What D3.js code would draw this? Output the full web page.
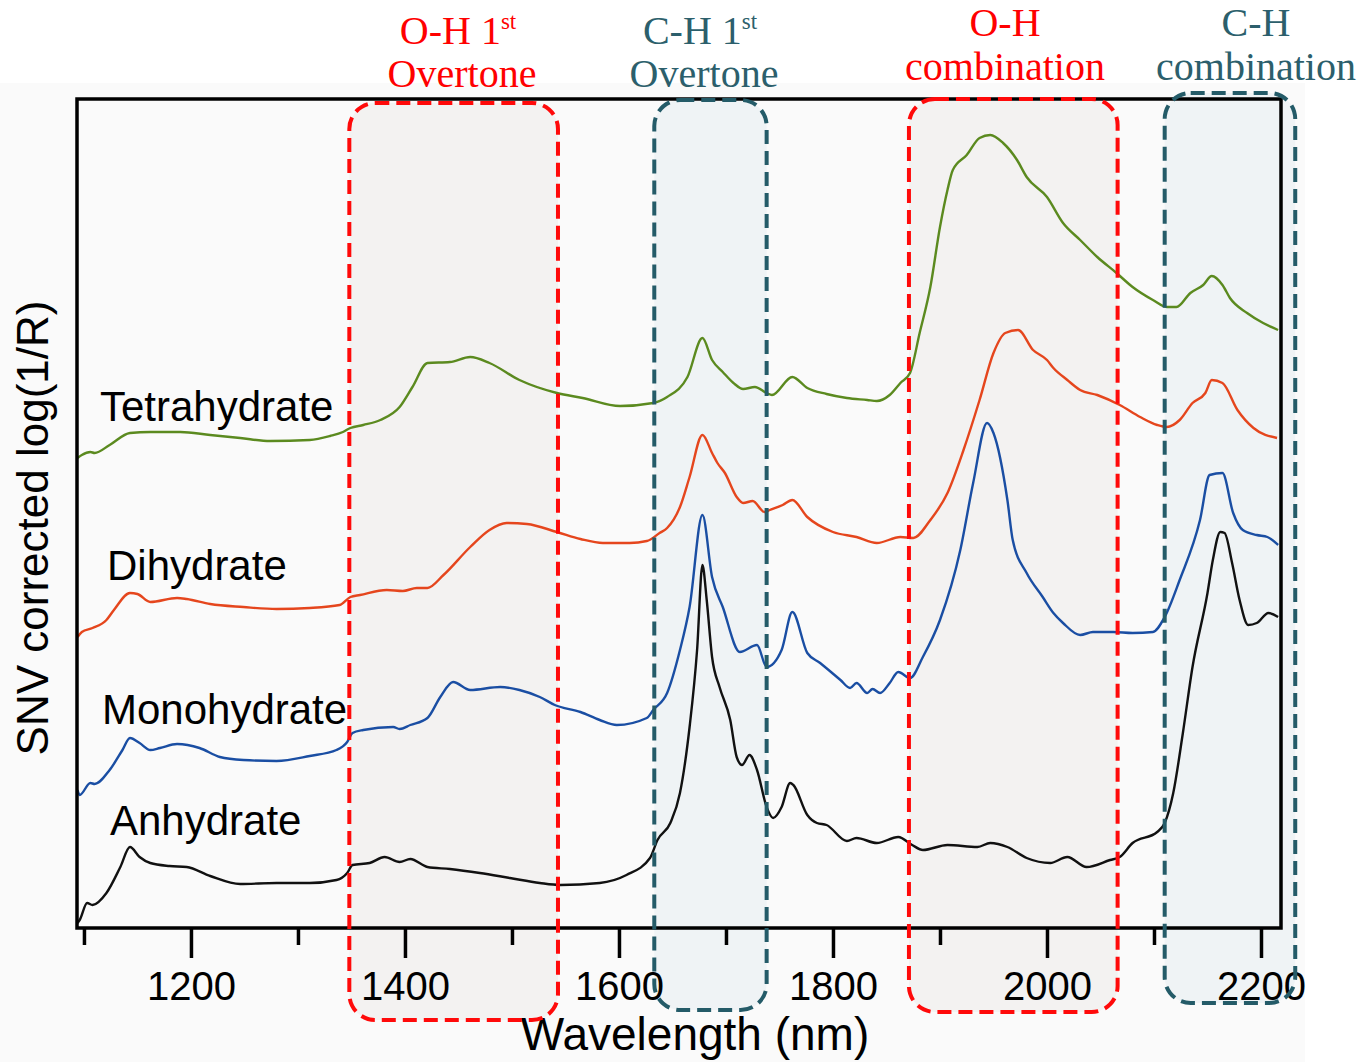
<!DOCTYPE html>
<html lang="en">
<head>
<meta charset="utf-8">
<title>NIR spectra of hydrates</title>
<script src="https://d3js.org/d3.v7.min.js"></script>
<style>
  body { margin: 0; background: #fff; }
  svg { display: block; }
  .tick-label { font-family: "Liberation Sans", Arial, sans-serif; font-size: 40px; fill: #000; }
  .axis-title { font-family: "Liberation Sans", Arial, sans-serif; font-size: 44px; fill: #000; }
  .series-label { font-family: "Liberation Sans", Arial, sans-serif; font-size: 42px; fill: #000; }
  .band-label { font-family: "Liberation Serif", "Times New Roman", serif; font-size: 40px; }
</style>
</head>
<body>
<div id="chart"></div>
<script>
// wavelength (nm), SNV value (arbitrary offset units)
const anhydrate = [
  [1094,0.05],[1096,0.08],[1103,0.25],[1108,0.23],[1121,0.35],[1134,0.61],[1143,0.81],[1152,0.71],
  [1162,0.65],[1180,0.62],[1196,0.61],[1218,0.52],[1246,0.44],[1280,0.45],[1311,0.45],[1336,0.48],
  [1346,0.55],[1351,0.63],[1367,0.65],[1381,0.71],[1395,0.66],[1405,0.69],[1421,0.61],[1442,0.59],
  [1470,0.55],[1498,0.50],[1526,0.45],[1545,0.43],[1582,0.45],[1607,0.53],[1629,0.70],[1636,0.88],
  [1648,1.05],[1657,1.35],[1666,2.01],[1673,2.78],[1678,3.63],[1682,3.28],[1687,2.71],[1694,2.41],
  [1704,2.08],[1710,1.71],[1715,1.63],[1722,1.73],[1729,1.58],[1738,1.21],[1744,1.10],[1752,1.21],
  [1760,1.45],[1763,1.43],[1776,1.13],[1785,1.05],[1794,1.03],[1813,0.87],[1822,0.90],[1841,0.85],
  [1861,0.91],[1874,0.83],[1884,0.78],[1907,0.83],[1935,0.81],[1947,0.85],[1963,0.81],[1981,0.70],
  [2003,0.65],[2019,0.71],[2037,0.61],[2059,0.68],[2068,0.71],[2080,0.85],[2103,0.96],[2110,1.05],
  [2118,1.35],[2127,1.95],[2136,2.61],[2150,3.35],[2155,3.68],[2162,3.96],[2166,3.95],[2173,3.65],
  [2180,3.28],[2188,3.03],[2196,3.05],[2207,3.15],[2216,3.11]
];
const monohydrate = [
  [1094,1.38],[1096,1.33],[1106,1.45],[1110,1.44],[1124,1.58],[1136,1.78],[1143,1.90],[1152,1.85],
  [1162,1.78],[1171,1.80],[1187,1.84],[1208,1.80],[1227,1.71],[1249,1.68],[1280,1.67],[1311,1.72],
  [1336,1.78],[1346,1.86],[1351,1.95],[1361,1.98],[1389,2.01],[1395,1.99],[1405,2.03],[1421,2.10],
  [1433,2.31],[1445,2.46],[1461,2.38],[1489,2.41],[1507,2.38],[1526,2.31],[1540,2.23],[1564,2.16],
  [1582,2.08],[1598,2.03],[1626,2.10],[1632,2.18],[1645,2.35],[1657,2.78],[1666,3.21],[1678,4.13],
  [1687,3.51],[1697,3.21],[1713,2.76],[1729,2.83],[1738,2.61],[1752,2.78],[1762,3.16],[1776,2.75],
  [1788,2.65],[1807,2.48],[1816,2.40],[1822,2.45],[1832,2.35],[1837,2.39],[1844,2.35],[1853,2.45],
  [1861,2.56],[1872,2.50],[1884,2.71],[1900,3.08],[1919,3.78],[1931,4.45],[1944,5.05],[1950,4.95],
  [1963,4.28],[1968,3.88],[1981,3.55],[1996,3.31],[2006,3.15],[2015,3.05],[2031,2.93],[2043,2.96],
  [2062,2.96],[2080,2.95],[2099,2.96],[2110,3.11],[2124,3.48],[2143,4.08],[2152,4.53],[2164,4.55],
  [2174,4.15],[2183,3.98],[2196,3.93],[2206,3.91],[2216,3.83]
];
const dihydrate = [
  [1094,2.91],[1098,2.96],[1108,3.00],[1121,3.08],[1128,3.18],[1143,3.35],[1150,3.34],[1162,3.26],
  [1187,3.30],[1196,3.29],[1218,3.24],[1249,3.21],[1280,3.19],[1311,3.20],[1339,3.23],[1349,3.31],
  [1358,3.33],[1383,3.38],[1398,3.37],[1411,3.40],[1421,3.40],[1436,3.53],[1461,3.81],[1479,3.98],
  [1495,4.05],[1514,4.04],[1542,3.96],[1564,3.89],[1585,3.85],[1610,3.85],[1626,3.87],[1638,3.95],
  [1645,4.00],[1657,4.21],[1666,4.51],[1678,4.93],[1687,4.75],[1692,4.65],[1699,4.55],[1710,4.31],
  [1716,4.25],[1725,4.27],[1736,4.16],[1741,4.18],[1753,4.23],[1762,4.28],[1776,4.11],[1800,3.96],
  [1822,3.91],[1841,3.85],[1863,3.91],[1875,3.90],[1891,4.08],[1907,4.35],[1922,4.78],[1937,5.28],
  [1950,5.75],[1961,5.95],[1973,5.98],[1987,5.78],[2000,5.68],[2006,5.60],[2019,5.48],[2031,5.38],
  [2047,5.33],[2068,5.23],[2087,5.11],[2103,5.03],[2112,5.01],[2124,5.08],[2136,5.25],[2148,5.35],
  [2154,5.48],[2164,5.45],[2178,5.18],[2193,5.00],[2215,4.90]
];
const tetrahydrate = [
  [1094,4.70],[1098,4.73],[1106,4.76],[1110,4.75],[1124,4.83],[1143,4.95],[1162,4.96],[1190,4.96],
  [1218,4.93],[1246,4.90],[1274,4.87],[1311,4.88],[1330,4.92],[1342,4.96],[1349,5.00],[1361,5.03],
  [1377,5.08],[1395,5.21],[1407,5.41],[1421,5.65],[1442,5.66],[1461,5.71],[1479,5.65],[1507,5.48],
  [1542,5.35],[1566,5.30],[1601,5.22],[1632,5.25],[1645,5.31],[1664,5.51],[1678,5.90],[1687,5.68],
  [1697,5.56],[1707,5.45],[1716,5.39],[1727,5.41],[1738,5.35],[1743,5.33],[1762,5.51],[1776,5.40],
  [1794,5.34],[1813,5.30],[1832,5.28],[1841,5.27],[1853,5.33],[1863,5.45],[1872,5.55],[1881,5.95],
  [1891,6.41],[1900,7.01],[1907,7.38],[1912,7.58],[1925,7.73],[1937,7.90],[1947,7.93],[1959,7.85],
  [1972,7.68],[1981,7.51],[2000,7.31],[2015,7.05],[2031,6.88],[2047,6.71],[2065,6.55],[2080,6.41],
  [2099,6.28],[2112,6.21],[2121,6.21],[2134,6.35],[2146,6.43],[2154,6.52],[2164,6.43],[2171,6.30],
  [2187,6.15],[2202,6.05],[2216,5.98]
];

const seriesNames = ["Anhydrate", "Monohydrate", "Dihydrate", "Tetrahydrate"];
const seriesColors = ["#111111", "#1a4ea3", "#e5461d", "#5b8a1f"];
const majorTicks = [1200, 1400, 1600, 1800, 2000, 2200];
const minorTicks = [1100, 1300, 1500, 1700, 1900, 2100];

// absorption bands: [start nm, end nm]
const bandNames = [["O-H 1", "Overtone"], ["C-H 1", "Overtone"], ["O-H", "combination"], ["C-H", "combination"]];
const bandRanges = [[1348, 1543], [1633, 1738], [1871, 2066], [2110, 2232]];
const bandKinds = ["oh", "ch", "oh", "ch"];

const width = 1362, height = 1062;
const plot = {left: 77, right: 1281, top: 99, bottom: 928};

const svg = d3.select("#chart").append("svg")
  .attr("width", width).attr("height", height);

svg.append("rect").attr("x", 0).attr("y", 83).attr("width", 1305).attr("height", height - 83)
  .attr("fill", "#fafafa");

const x = d3.scaleLinear().domain([1093.5, 2218.7]).range([plot.left, plot.right]);
const y = d3.scaleLinear().domain([0, 8.29]).range([plot.bottom, plot.top]);

const bandStyle = {
  oh: {stroke: "#ff0a0a", fill: "#f3f2f1", text: "#ff0000"},
  ch: {stroke: "#245b68", fill: "#eff3f5", text: "#2c5f6c"}
};
// vertical extents of the dashed boxes (layout only)
const bandBoxY = [[103, 1020], [100, 1010], [99, 1012], [93, 1003]];

const bands = bandRanges.map((r, i) => ({
  x0: x(r[0]), x1: x(r[1]), y0: bandBoxY[i][0], y1: bandBoxY[i][1],
  style: bandStyle[bandKinds[i]], name: bandNames[i]
}));

// band fills
svg.append("g").selectAll("rect").data(bands).join("rect")
  .attr("x", d => d.x0).attr("y", d => d.y0)
  .attr("width", d => d.x1 - d.x0).attr("height", d => d.y1 - d.y0)
  .attr("rx", 26).attr("ry", 26)
  .attr("fill", d => d.style.fill);

// spectra
const line = d3.line().x(d => x(d[0])).y(d => y(d[1])).curve(d3.curveMonotoneX);
const allSeries = [anhydrate, monohydrate, dihydrate, tetrahydrate];
svg.append("g").selectAll("path").data(allSeries).join("path")
  .attr("d", line)
  .attr("fill", "none")
  .attr("stroke", (d, i) => seriesColors[i])
  .attr("stroke-width", 2.4)
  .attr("stroke-linejoin", "round");

// series labels
const labelPos = [[110, 835], [102, 724], [107, 580], [100, 421]];
svg.append("g").selectAll("text").data(seriesNames).join("text")
  .attr("class", "series-label")
  .attr("x", (d, i) => labelPos[i][0]).attr("y", (d, i) => labelPos[i][1])
  .text(d => d);

// frame
svg.append("rect")
  .attr("x", plot.left).attr("y", plot.top)
  .attr("width", plot.right - plot.left).attr("height", plot.bottom - plot.top)
  .attr("fill", "none").attr("stroke", "#000").attr("stroke-width", 3.5);

// x axis
const axisMajor = d3.axisBottom(x).tickValues(majorTicks).tickSize(30).tickPadding(14).tickFormat(d3.format("d"));
const gx = svg.append("g").attr("transform", `translate(0,${plot.bottom})`).call(axisMajor);
gx.select(".domain").remove();
gx.selectAll(".tick line").attr("stroke", "#000").attr("stroke-width", 3.5);
gx.selectAll(".tick text").attr("class", "tick-label").attr("font-size", null).attr("font-family", null)
  .attr("dy", "0.71em");

const gm = svg.append("g").attr("transform", `translate(0,${plot.bottom})`)
  .call(d3.axisBottom(x).tickValues(minorTicks).tickSize(17).tickFormat(""));
gm.select(".domain").remove();
gm.selectAll(".tick line").attr("stroke", "#000").attr("stroke-width", 3.5);

svg.append("text").attr("class", "axis-title")
  .attr("x", 695).attr("y", 1050).attr("text-anchor", "middle")
  .attr("font-size", 46).style("font-size", "46px")
  .text("Wavelength (nm)");

svg.append("text").attr("class", "axis-title")
  .attr("transform", "translate(48,528) rotate(-90)")
  .attr("text-anchor", "middle")
  .text("SNV corrected log(1/R)");

// band outlines
svg.append("g").selectAll("rect").data(bands).join("rect")
  .attr("x", d => d.x0).attr("y", d => d.y0)
  .attr("width", d => d.x1 - d.x0).attr("height", d => d.y1 - d.y0)
  .attr("rx", 26).attr("ry", 26)
  .attr("fill", "none")
  .attr("stroke", d => d.style.stroke)
  .attr("stroke-width", 4)
  .attr("stroke-dasharray", "14 7");

// band labels above the plot
const bandLabelCx = [458, 700, 1005, 1256];
const bandLabelY = [[44, 87], [44, 87], [36, 80], [36, 80]];
bands.forEach((b, i) => {
  const sup = i < 2;
  const t1 = svg.append("text").attr("class", "band-label")
    .attr("x", bandLabelCx[i]).attr("y", bandLabelY[i][0])
    .attr("text-anchor", "middle").attr("fill", b.style.text);
  t1.append("tspan").text(b.name[0]);
  if (sup) {
    t1.append("tspan").attr("font-size", 23).attr("dy", -15).text("st");
  }
  svg.append("text").attr("class", "band-label")
    .attr("x", bandLabelCx[i] + (sup ? 4 : 0)).attr("y", bandLabelY[i][1])
    .attr("text-anchor", "middle").attr("fill", b.style.text)
    .text(b.name[1]);
});
</script>
</body>
</html>
